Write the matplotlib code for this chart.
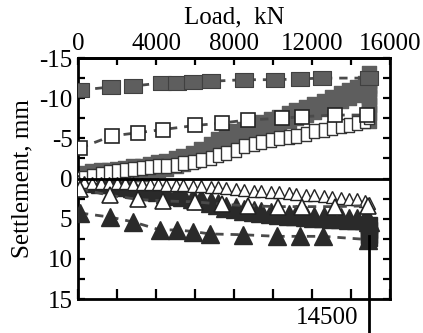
import numpy as np
import matplotlib.pyplot as plt
from matplotlib.ticker import MultipleLocator

plt.rcParams['font.family'] = ['Liberation Serif', 'DejaVu Serif']
plt.rcParams['axes.unicode_minus'] = False

# Load (kN) and settlement (mm); negative = upward
LOAD_DENSE = [0, 300, 700, 1200, 1600, 2000, 2400, 2800, 3300, 3700, 4100, 4500,
              5000, 5400, 5900, 6300, 6800, 7200, 7600, 8100, 8500, 9000, 9400, 9900,
              10300, 10800, 11200, 11700, 12100, 12600, 13000, 13500, 13900, 14300,
              14700, 14900]

GRAY_DENSE = [0.0, -0.2, -0.4, -0.5, -0.6, -0.7, -0.8, -1.0, -1.1, -1.3, -1.5, -1.7,
              -2.0, -2.3, -2.7, -3.2, -3.8, -4.4, -4.9, -5.4, -5.7, -6.1, -6.5, -6.9,
              -7.2, -7.6, -8.0, -8.4, -8.8, -9.2, -9.6, -10.1, -10.5, -10.9,
              -11.4, -12.0]
GRAY_HOLD_LOAD = [14900, 14900, 14900, 14900, 14900, 14900]
GRAY_HOLD = [-12.6, -11.6, -10.6, -9.6, -8.6, -7.6]

WHITE_SQ_DENSE = [0.0, -0.1, -0.3, -0.5, -0.8, -0.9, -1.0, -1.2, -1.3, -1.4, -1.5, -1.6,
                  -1.7, -1.9, -2.1, -2.3, -2.5, -2.9, -3.2, -3.6, -4.0, -4.3, -4.5, -4.8,
                  -5.0, -5.2, -5.3, -5.6, -5.9, -6.1, -6.3, -6.5, -6.7, -6.9,
                  -7.2, -7.6]

WHITE_TRI_DENSE = [0.3, 0.4, 0.5, 0.5, 0.6, 0.6, 0.6, 0.7, 0.7, 0.7, 0.7, 0.8,
                   0.8, 0.8, 0.9, 0.9, 1.0, 1.1, 1.2, 1.3, 1.4, 1.5, 1.6, 1.7,
                   1.7, 1.8, 1.9, 2.0, 2.1, 2.2, 2.3, 2.4, 2.5, 2.6,
                   2.8, 3.0]

BLACK_TRI_DENSE = [0.2, 0.3, 0.4, 0.5, 0.6, 0.8, 0.9, 1.1, 1.2, 1.4, 1.6, 1.8,
                   2.0, 2.2, 2.4, 2.6, 2.9, 3.2, 3.5, 3.7, 3.9, 4.1, 4.2, 4.3,
                   4.4, 4.5, 4.6, 4.7, 4.8, 4.8, 4.9, 4.9, 5.0, 5.0,
                   5.1, 5.3]
BLACK_HOLD_LOAD = [14900, 14900, 14900, 14900]
BLACK_HOLD = [5.8, 6.4, 7.0, 7.4]

# sparse series (connected by dashes)
GRAY_SQ_LOAD = [100, 1700, 2800, 4300, 5100, 5900, 6800, 8500, 10100, 11400, 12500, 14900]
GRAY_SQ = [-11.0, -11.4, -11.5, -11.9, -11.9, -12.0, -12.1, -12.3, -12.3, -12.4, -12.5, -12.5]

WHITE_SQ_LOAD = [100, 1740, 3080, 4360, 6000, 7380, 8720, 10460, 11490, 13180, 14820]
WHITE_SQ = [-3.8, -5.3, -5.7, -6.1, -6.6, -6.9, -7.3, -7.5, -7.7, -7.9, -7.9]

WHITE_TRI_LOAD = [100, 1640, 3080, 4360, 6000, 7380, 8720, 10260, 11490, 13180, 14870]
WHITE_TRI = [1.3, 2.1, 2.6, 2.8, 2.9, 3.2, 3.4, 3.5, 3.5, 3.5, 3.4]

BLACK_TRI_LOAD = [100, 1640, 2820, 4200, 5080, 5900, 6770, 8460, 10200, 11380, 12560, 14870]
BLACK_TRI = [4.3, 4.8, 5.4, 6.4, 6.4, 6.6, 6.9, 7.0, 7.2, 7.2, 7.2, 7.6]

TOP_TICKS = [0, 4000, 8000, 12000, 16000]

GRAY = '#5e5e5e'
BLACK = '#2a2a2a'
DASH = '#4a4a4a'
FS = 18

# narrow / wide rectangles, the scan stretches the symbols
TALL = [(-0.33, -0.5), (0.33, -0.5), (0.33, 0.5), (-0.33, 0.5), (-0.33, -0.5)]
WIDE = [(-0.6, -0.45), (0.6, -0.45), (0.6, 0.45), (-0.6, 0.45), (-0.6, -0.45)]

fig = plt.figure(figsize=(4.23, 3.33), dpi=100)
ax = fig.add_axes([0.1844, 0.1021, 0.7376, 0.7237])

# upper (heave) group
ax.plot(LOAD_DENSE, GRAY_DENSE, ls='none', marker=TALL, ms=16, mfc=GRAY, mec=GRAY, zorder=2)
ax.plot(GRAY_HOLD_LOAD, GRAY_HOLD, ls='none', marker=TALL, ms=16, mfc=GRAY, mec=GRAY, zorder=2)
ax.plot(LOAD_DENSE, WHITE_SQ_DENSE, ls='none', marker=TALL, ms=10, mfc='white',
        mec='#333333', mew=1.0, zorder=3)
ax.plot(GRAY_SQ_LOAD, GRAY_SQ, ls=(0, (3, 2.5)), lw=2, color=DASH, marker=WIDE, ms=13,
        mfc=GRAY, mec='#404040', mew=0.8, zorder=4)
ax.plot(WHITE_SQ_LOAD, WHITE_SQ, ls=(0, (3, 2.5)), lw=2, color=DASH, marker='s', ms=9.5,
        mfc='white', mec='#222222', mew=1.2, zorder=4)

# lower (settlement) group
ax.plot(LOAD_DENSE, BLACK_TRI_DENSE, ls='none', marker='^', ms=14, mfc=BLACK, mec=BLACK, zorder=2)
ax.plot(BLACK_HOLD_LOAD, BLACK_HOLD, ls='none', marker='s', ms=12, mfc=BLACK, mec=BLACK, zorder=2)
ax.plot(LOAD_DENSE, WHITE_TRI_DENSE, ls='none', marker='^', ms=9, mfc='white',
        mec='#222222', mew=1.0, zorder=3)
ax.plot(WHITE_TRI_LOAD, WHITE_TRI, ls=(0, (3, 2.5)), lw=2, color=DASH, marker='^', ms=12,
        mfc='white', mec='#222222', mew=1.2, zorder=4)
ax.plot(BLACK_TRI_LOAD, BLACK_TRI, ls=(0, (3, 2.5)), lw=2, color=DASH, marker='^', ms=13,
        mfc=BLACK, mec=BLACK, zorder=4)

ax.axhline(0, color='k', lw=2, zorder=6)

ax.set_xlim(0, 16000)
ax.set_ylim(15, -15)

for sp in ax.spines.values():
    sp.set_linewidth(2)

ax.yaxis.set_major_locator(MultipleLocator(5))
ax.yaxis.set_minor_locator(MultipleLocator(2.5))
ax.tick_params(axis='y', which='both', direction='in', left=True, right=True,
               length=5, width=1.6, labelsize=FS, pad=4)
ax.xaxis.set_major_locator(MultipleLocator(2000))
ax.tick_params(axis='x', which='both', direction='in', bottom=True, top=False,
               labelbottom=False, length=7, width=1.6)

top = ax.secondary_xaxis('top')
top.set_xticks(TOP_TICKS)
top.xaxis.set_minor_locator(MultipleLocator(2000))
top.tick_params(which='both', direction='in', length=5, width=1.6, labelsize=FS, pad=2)
top.spines['top'].set_linewidth(2)

ax.set_ylabel('Settlement, mm', fontsize=FS)
ax.yaxis.set_label_coords(-0.143, 0.5)
fig.text(234 / 423, 1 - 23 / 333, 'Load,  kN', ha='center', va='baseline', fontsize=FS)

# marker for the peak load below the axis
ax.plot([14900, 14900], [7.2, 20], color='k', lw=2, clip_on=False, zorder=7)
ax.text(12800, 18.1, '14500', ha='center', va='baseline', fontsize=FS, clip_on=False)

fig.savefig('out.png', dpi=100)
